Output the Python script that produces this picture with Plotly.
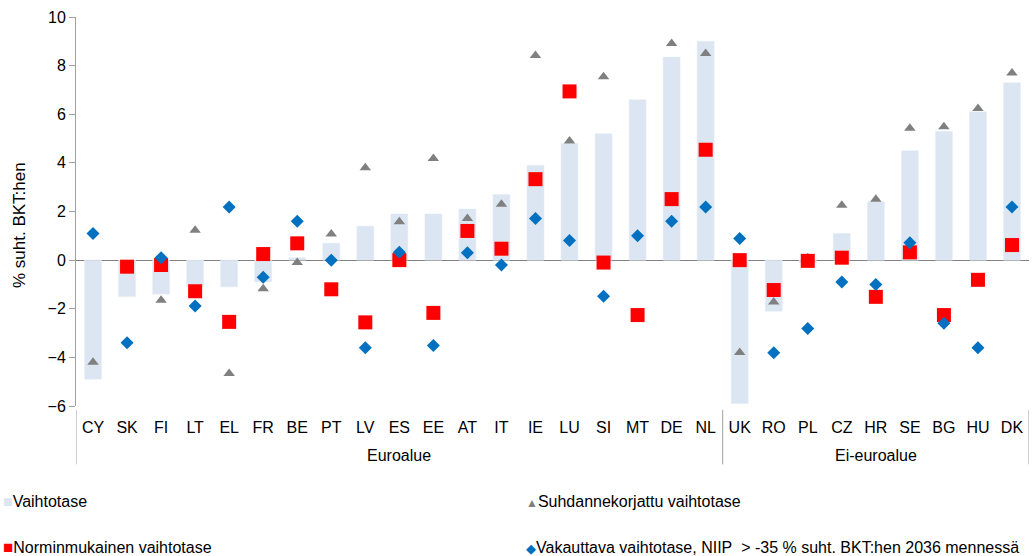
import plotly.graph_objects as go

countries = ["CY", "SK", "FI", "LT", "EL", "FR", "BE", "PT", "LV", "ES", "EE", "AT", "IT",
             "IE", "LU", "SI", "MT", "DE", "NL", "UK", "RO", "PL", "CZ", "HR", "SE", "BG", "HU", "DK"]
vaihtotase = [-4.9, -1.5, -1.4, -1.1, -1.1, -0.9, 0.1, 0.7, 1.4, 1.9, 1.9, 2.1, 2.7,
              3.9, 4.8, 5.2, 6.6, 8.35, 9.0, -5.9, -2.1, -0.1, 1.1, 2.4, 4.5, 5.3, 6.1, 7.3]
suhdanne = [-4.2, -0.3, -1.65, 1.23, -4.66, -1.18, -0.1, 1.07, 3.8, 1.58, 4.18, 1.71, 2.3,
            8.42, 4.9, 7.54, None, 8.91, 8.5, -3.8, -1.72, 0.1, 2.26, 2.5, 5.42, 5.49, 6.24, 7.7]
normi = [None, -0.27, -0.2, -1.28, -2.54, 0.25, 0.69, -1.2, -2.56, 0.0, -2.17, 1.2, 0.47,
         3.33, 6.94, -0.1, -2.26, 2.51, 4.54, 0.0, -1.23, -0.03, 0.1, -1.51, 0.32, -2.26, -0.81, 0.62]
vakauttava = [1.1, -3.4, 0.1, -1.89, 2.19, -0.7, 1.6, 0.0, -3.6, 0.32, -3.51, 0.3, -0.2,
              1.71, 0.81, -1.49, 1.0, 1.6, 2.19, 0.89, -3.81, -2.81, -0.9, -1.0, 0.71, -2.6, -3.6, 2.19]
groups = ["Euroalue", "Ei-euroalue"]
group_sizes = [19, 9]
y_ticks = [-6, -4, -2, 0, 2, 4, 6, 8, 10]
y_title = "% suht. BKT:hen"
legend_names = ["Vaihtotase", "Suhdannekorjattu vaihtotase", "Norminmukainen vaihtotase",
                "Vakauttava vaihtotase, NIIP\u00a0 > -35 % suht. BKT:hen 2036 mennessä"]

FONT = "Liberation Sans, Arial, sans-serif"
NARROW = "Liberation Sans Narrow, Arial Narrow, Liberation Sans, sans-serif"
C_BAR = "#DCE6F2"
C_TRI = "#808080"
C_SQ = "#FF0000"
C_DIA = "#0070C0"

L, R, T, B = 76, 7, 17, 150
W, H = 1036, 556
PW, PH = W - L - R, H - T - B

x = list(range(len(countries)))

fig = go.Figure()
fig.add_trace(go.Bar(x=x, y=vaihtotase, marker_color=C_BAR, width=0.5, name=legend_names[0],
                     showlegend=False))
fig.add_trace(go.Scatter(x=x, y=suhdanne, mode="markers", name=legend_names[1], showlegend=False,
                         marker=dict(symbol="triangle-up", size=10, color=C_TRI)))
fig.add_trace(go.Scatter(x=x, y=normi, mode="markers", name=legend_names[2], showlegend=False,
                         marker=dict(symbol="square", size=14, color=C_SQ)))
fig.add_trace(go.Scatter(x=x, y=vakauttava, mode="markers", name=legend_names[3], showlegend=False,
                         marker=dict(symbol="diamond", size=10, color=C_DIA)))

# group separators and labels
bounds = [-0.5]
for s in group_sizes:
    bounds.append(bounds[-1] + s)
for b in bounds:
    fig.add_shape(type="line", xref="x", yref="paper", x0=b, x1=b, y0=-0.01, y1=-0.15,
                  line=dict(color="#A0A0A0", width=1))
for i, g in enumerate(groups):
    fig.add_annotation(x=(bounds[i] + bounds[i + 1]) / 2, xref="x", yref="paper", y=(406 - 455) / PH,
                       text=g, showarrow=False, font=dict(family=FONT, size=16, color="#000"),
                       yanchor="middle")

# y-axis title
fig.add_annotation(xref="paper", yref="paper", x=(20 - L) / PW, y=(406 - 225) / PH,
                   text=y_title, textangle=-90, showarrow=False, xanchor="center", yanchor="middle",
                   font=dict(family=FONT, size=17, color="#000"))

# manual legend
leg = [
    (f'<span style="color:{C_BAR};font-size:16px">■</span>{legend_names[0]}', 1, 501),
    (f'<span style="color:{C_TRI};font-size:12px">▲</span>{legend_names[1]}', 524, 501),
    (f'<span style="color:{C_SQ};font-size:17px">■</span>{legend_names[2]}', 1, 547),
    (f'<span style="color:{C_DIA};font-size:13px">◆</span>{legend_names[3]}', 524, 547),
]
for t, px, py in leg:
    fig.add_annotation(xref="paper", yref="paper", x=(px - L) / PW, y=(406 - py) / PH,
                       text=t, showarrow=False, xanchor="left", yanchor="middle",
                       font=dict(family=FONT, size=16, color="#000"))

fig.update_layout(
    width=W, height=H,
    margin=dict(l=L, r=R, t=T, b=B, autoexpand=False),
    plot_bgcolor="white", paper_bgcolor="white",
    font=dict(family=FONT, size=16, color="#000"),
    xaxis=dict(range=[-0.5, 27.5], tickvals=x, ticktext=countries, showgrid=False,
               zeroline=False, showline=False, ticks="", ticklabelstandoff=10,
               tickfont=dict(family=NARROW, size=16), automargin=False),
    yaxis=dict(range=[-6, 10], tickvals=y_ticks, showgrid=False, zeroline=True,
               zerolinecolor="#808080", zerolinewidth=1, showline=True, linecolor="#A0A0A0",
               ticks="outside", ticklen=6, tickcolor="#A0A0A0", tickfont=dict(size=16),
               automargin=False),
)

fig.write_html("out.html", config={"displayModeBar": False},
               post_script="document.body.style.margin='0';document.body.style.overflow='hidden';")
